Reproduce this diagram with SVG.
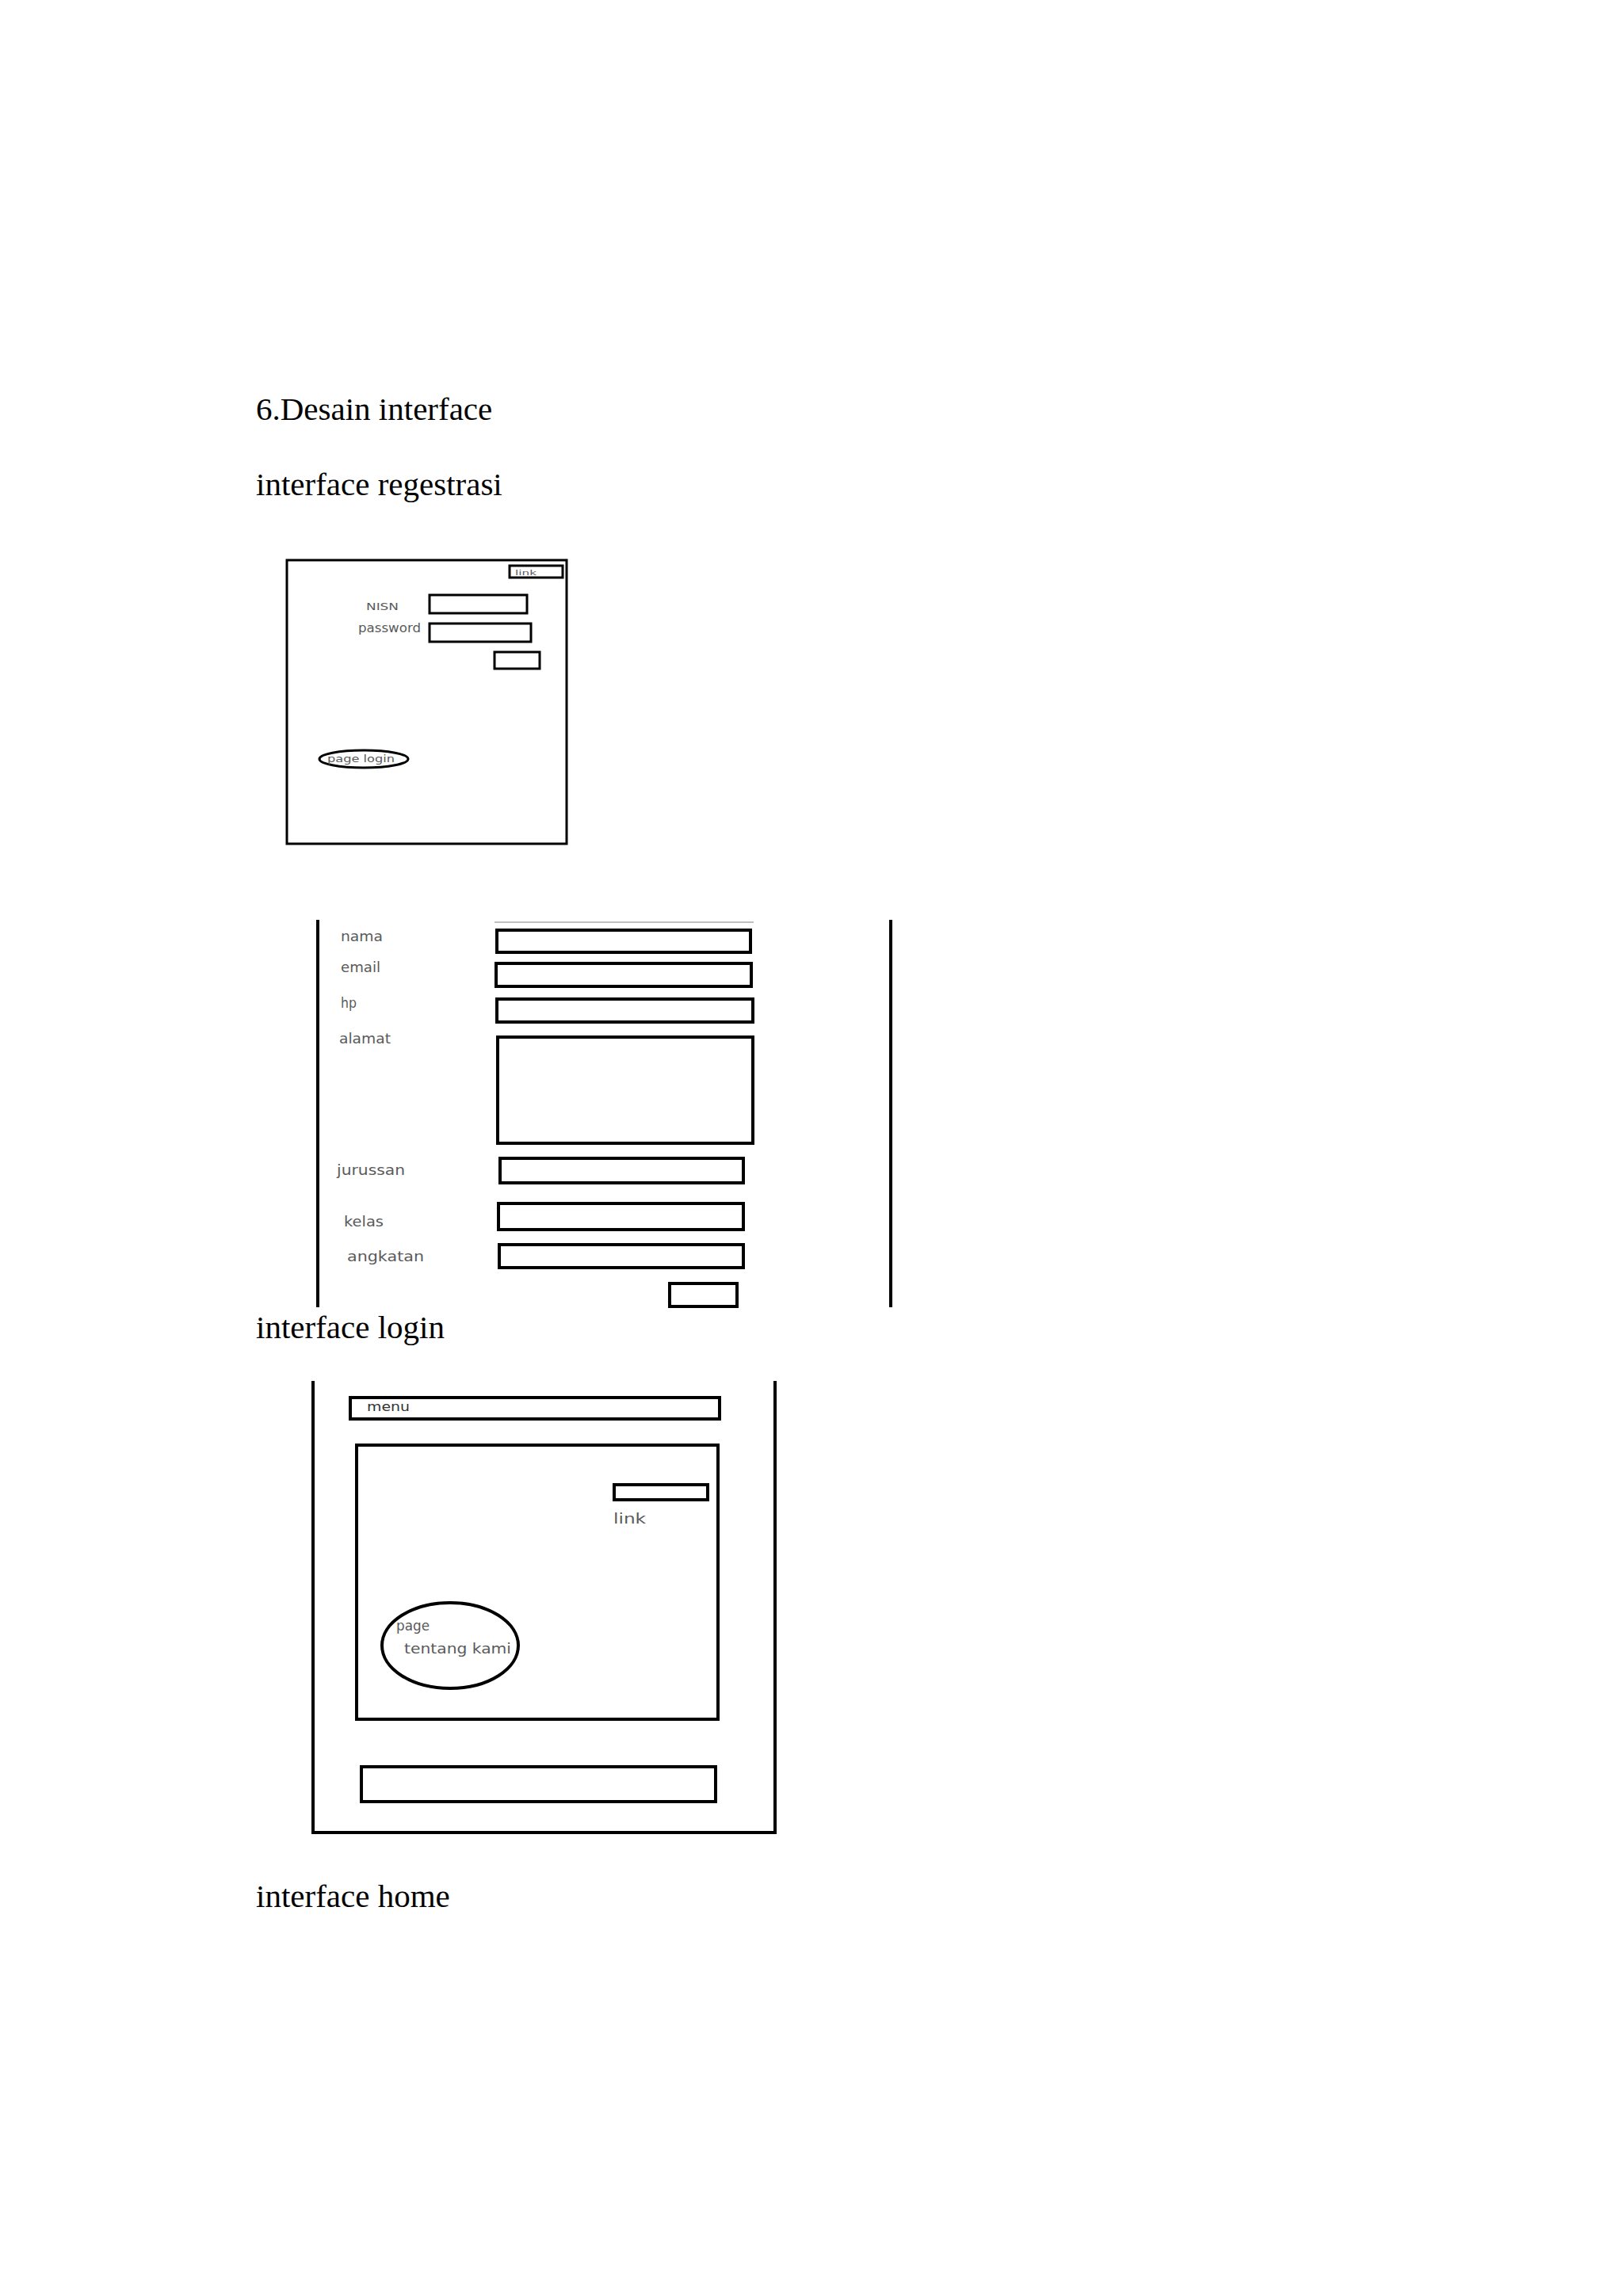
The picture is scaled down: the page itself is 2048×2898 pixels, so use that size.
<svg xmlns="http://www.w3.org/2000/svg" width="2048" height="2898" viewBox="0 0 2048 2898">
<style>
.h{font-family:"Liberation Serif","Times New Roman",serif;font-size:41px;fill:#000}
.lb{font-family:"DejaVu Sans","Liberation Sans",sans-serif;fill:#5a5a5a}
.bx{fill:#fff;stroke:#000;stroke-width:4}
.bt{fill:#fff;stroke:#000;stroke-width:3}
.fr{fill:none;stroke:#000;stroke-width:4}
</style>
<rect width="2048" height="2898" fill="#fff"/>
<text class="h" x="323" y="530">6.Desain interface</text>
<text class="h" x="323" y="625">interface regestrasi</text>
<text class="h" x="323" y="1689">interface login</text>
<text class="h" x="323" y="2407">interface home</text>

<g id="login-frame">
<rect class="bt" x="362" y="707" width="353" height="358"/>
<rect class="bt" x="643" y="714" width="67" height="15"/>
<text class="lb" x="650" y="726" font-size="9" textLength="27" lengthAdjust="spacingAndGlyphs">link</text>
<text class="lb" x="462" y="770" font-size="13" textLength="41" lengthAdjust="spacingAndGlyphs">NISN</text>
<rect class="bt" x="542" y="751" width="123" height="23"/>
<text class="lb" x="452" y="798" font-size="16" textLength="79" lengthAdjust="spacingAndGlyphs">password</text>
<rect class="bt" x="542" y="787" width="128" height="23"/>
<rect class="bt" x="624" y="823" width="57" height="21"/>
<ellipse cx="459" cy="958" rx="56" ry="11" fill="#fff" stroke="#000" stroke-width="3"/>
<text class="lb" x="413" y="962" font-size="13" textLength="85" lengthAdjust="spacingAndGlyphs" fill="#444">page login</text>
</g>

<g id="register-frame">
<line x1="401" y1="1161" x2="401" y2="1650" class="fr"/>
<line x1="1124" y1="1161" x2="1124" y2="1650" class="fr"/>
<line x1="624" y1="1164" x2="951" y2="1164" stroke="#aaa" stroke-width="1.5"/>
<text class="lb" x="430" y="1188" font-size="17" textLength="53" lengthAdjust="spacingAndGlyphs">nama</text>
<rect class="bx" x="627" y="1174" width="320" height="28"/>
<text class="lb" x="430" y="1227" font-size="17" textLength="50" lengthAdjust="spacingAndGlyphs">email</text>
<rect class="bx" x="626" y="1216" width="322" height="29"/>
<text class="lb" x="430" y="1272" font-size="17" textLength="20" lengthAdjust="spacingAndGlyphs">hp</text>
<rect class="bx" x="627" y="1261" width="323" height="29"/>
<text class="lb" x="428" y="1317" font-size="17" textLength="65" lengthAdjust="spacingAndGlyphs">alamat</text>
<rect class="bx" x="628" y="1309" width="322" height="134"/>
<text class="lb" x="425" y="1483" font-size="17" textLength="86" lengthAdjust="spacingAndGlyphs">jurussan</text>
<rect class="bx" x="631" y="1462" width="307" height="31"/>
<text class="lb" x="434" y="1548" font-size="17" textLength="50" lengthAdjust="spacingAndGlyphs">kelas</text>
<rect class="bx" x="629" y="1519" width="309" height="33"/>
<text class="lb" x="438" y="1592" font-size="17" textLength="97" lengthAdjust="spacingAndGlyphs">angkatan</text>
<rect class="bx" x="630" y="1571" width="308" height="29"/>
<rect class="bx" x="845" y="1620" width="85" height="29"/>
</g>

<g id="home-frame">
<path class="fr" d="M395 1743 V2313 H978 V1743"/>
<rect class="bx" x="442" y="1764" width="466" height="27"/>
<text x="463" y="1781" font-family="DejaVu Sans,Liberation Sans,sans-serif" font-size="15" fill="#333" textLength="54" lengthAdjust="spacingAndGlyphs">menu</text>
<rect class="bx" x="450" y="1824" width="456" height="346"/>
<rect class="bx" x="775" y="1874" width="118" height="19"/>
<text class="lb" x="774" y="1923" font-size="17" textLength="41" lengthAdjust="spacingAndGlyphs" fill="#555">link</text>
<ellipse cx="568" cy="2077" rx="86" ry="54" fill="#fff" stroke="#000" stroke-width="4"/>
<text class="lb" x="500" y="2058" font-size="17" textLength="42" lengthAdjust="spacingAndGlyphs">page</text>
<text class="lb" x="510" y="2087" font-size="17" textLength="135" lengthAdjust="spacingAndGlyphs">tentang kami</text>
<rect class="bx" x="456" y="2230" width="447" height="44"/>
</g>
</svg>
